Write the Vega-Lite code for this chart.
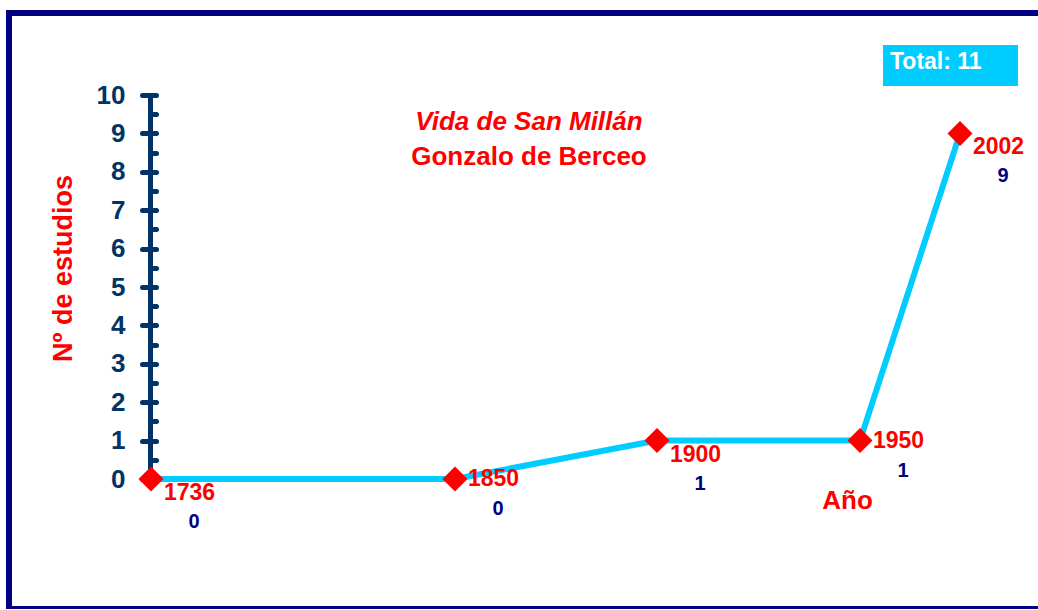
{
  "$schema": "https://vega.github.io/schema/vega-lite/v6.json",
  "autosize": {"type": "none"},
  "width": 1040,
  "height": 596,
  "padding": {"left": 9, "top": 13, "right": 0, "bottom": 0},
  "background": "white",
  "config": {
    "font": "Liberation Sans",
    "view": {"stroke": "#000080", "strokeWidth": 6}
  },
  "title": {
    "text": "Vida de San Millán",
    "subtitle": "Gonzalo de Berceo",
    "anchor": "middle",
    "offset": -176,
    "font": "Liberation Sans",
    "fontSize": 26,
    "fontWeight": "bold",
    "fontStyle": "italic",
    "color": "#FF0000",
    "subtitleFont": "Liberation Sans",
    "subtitleFontSize": 26,
    "subtitleFontWeight": "bold",
    "subtitleColor": "#FF0000",
    "subtitlePadding": 9
  },
  "data": {
    "values": [
      {"year": 1736, "count": 0},
      {"year": 1850, "count": 0},
      {"year": 1900, "count": 1},
      {"year": 1950, "count": 1},
      {"year": 2002, "count": 9}
    ]
  },
  "encoding": {
    "x": {
      "field": "year",
      "type": "quantitative",
      "scale": {"domain": [1736, 1850, 1900, 1950, 2002], "range": [142, 446, 648, 851, 951], "nice": false, "zero": false},
      "axis": {
        "orient": "bottom",
        "domain": false,
        "ticks": false,
        "labels": false,
        "grid": false,
        "title": "Año",
        "titleFont": "Liberation Sans",
        "titleFontSize": 26,
        "titleFontWeight": "bold",
        "titleColor": "#FF0000",
        "titleX": 838,
        "titleY": -109,
        "titleAlign": "center",
        "titleBaseline": "middle"
      }
    },
    "y": {
      "field": "count",
      "type": "quantitative",
      "scale": {"domain": [0, 10], "range": [466, 82], "nice": false, "zero": true},
      "axis": null
    }
  },
  "layer": [
    {
      "mark": {"type": "line", "strokeWidth": 6},
      "encoding": {
        "y": {
          "field": "count",
          "type": "quantitative",
          "axis": {
            "orient": "left",
            "offset": -141,
            "values": [0, 1, 2, 3, 4, 5, 6, 7, 8, 9, 10],
            "grid": false,
            "domainColor": "#003366",
            "domainWidth": 5,
            "domainCap": "round",
            "tickColor": "#003366",
            "tickWidth": 5,
            "tickSize": 8,
            "tickCap": "round",
            "labelFont": "Liberation Sans",
            "labelFontSize": 26,
            "labelFontWeight": "bold",
            "labelColor": "#003366",
            "labelPadding": 17,
            "labelFlush": false,
            "labelOverlap": false,
            "title": "Nº de estudios",
            "titleFont": "Liberation Sans",
            "titleFontSize": 27,
            "titleFontWeight": "bold",
            "titleColor": "#FF0000",
            "titleX": -87,
            "titleY": 255,
            "titleAngle": -90,
            "titleAlign": "center",
            "titleBaseline": "middle"
          }
        },
        "color": {
          "datum": "Total: 11",
          "scale": {"range": ["#00CCFF"]},
          "legend": {
            "orient": "none",
            "legendX": 874,
            "legendY": -19,
            "title": null,
            "symbolType": "M-1,-0.2444H1V0.363H-1Z",
            "symbolSize": 18225,
            "symbolStrokeWidth": 0,
            "symbolFillColor": "#00CCFF",
            "symbolOpacity": 1,
            "labelOffset": -128,
            "labelFont": "Liberation Sans",
            "labelFontSize": 23,
            "labelFontWeight": "bold",
            "labelColor": "#FFFFFF",
            "labelLimit": 400,
            "padding": 0,
            "encode": {
              "symbols": {
                "update": {
                  "fill": {"value": "#00CCFF"},
                  "fillOpacity": {"value": 1},
                  "stroke": {"value": "#00CCFF"},
                  "strokeWidth": {"value": 0},
                  "opacity": {"value": 1}
                }
              }
            }
          }
        }
      }
    },
    {
      "mark": {"type": "point", "shape": "diamond", "filled": true, "size": 625, "color": "#FF0000", "opacity": 1},
      "encoding": {
        "y": {
          "field": "count",
          "type": "quantitative",
          "axis": {
            "orient": "right",
            "offset": -899,
            "values": [0, 0.5, 1, 1.5, 2, 2.5, 3, 3.5, 4, 4.5, 5, 5.5, 6, 6.5, 7, 7.5, 8, 8.5, 9, 9.5, 10],
            "grid": false,
            "domain": false,
            "labels": false,
            "tickColor": "#003366",
            "tickWidth": 5,
            "tickSize": 6,
            "tickCap": "round",
            "title": null
          }
        }
      }
    },
    {
      "transform": [{"filter": {"field": "year", "oneOf": [1850, 1950]}}],
      "mark": {"type": "text", "align": "left", "baseline": "middle", "dx": 13, "dy": 0, "font": "Liberation Sans", "fontSize": 23, "fontWeight": "bold", "color": "#FF0000"},
      "encoding": {"text": {"field": "year", "type": "nominal"}}
    },
    {
      "transform": [{"filter": {"field": "year", "oneOf": [1736, 1900, 2002]}}],
      "mark": {"type": "text", "align": "left", "baseline": "middle", "dx": 13, "dy": 14, "font": "Liberation Sans", "fontSize": 23, "fontWeight": "bold", "color": "#FF0000"},
      "encoding": {"text": {"field": "year", "type": "nominal"}}
    },
    {
      "transform": [{"filter": {"field": "year", "oneOf": [1850, 1950]}}],
      "mark": {"type": "text", "align": "center", "baseline": "middle", "dx": 43, "dy": 30, "font": "Liberation Sans", "fontSize": 20, "fontWeight": "bold", "color": "#000080"},
      "encoding": {"text": {"field": "count", "type": "nominal"}}
    },
    {
      "transform": [{"filter": {"field": "year", "oneOf": [1736, 1900, 2002]}}],
      "mark": {"type": "text", "align": "center", "baseline": "middle", "dx": 43, "dy": 43, "font": "Liberation Sans", "fontSize": 20, "fontWeight": "bold", "color": "#000080"},
      "encoding": {"text": {"field": "count", "type": "nominal"}}
    }
  ],
  "resolve": {"axis": {"y": "independent"}}
}
